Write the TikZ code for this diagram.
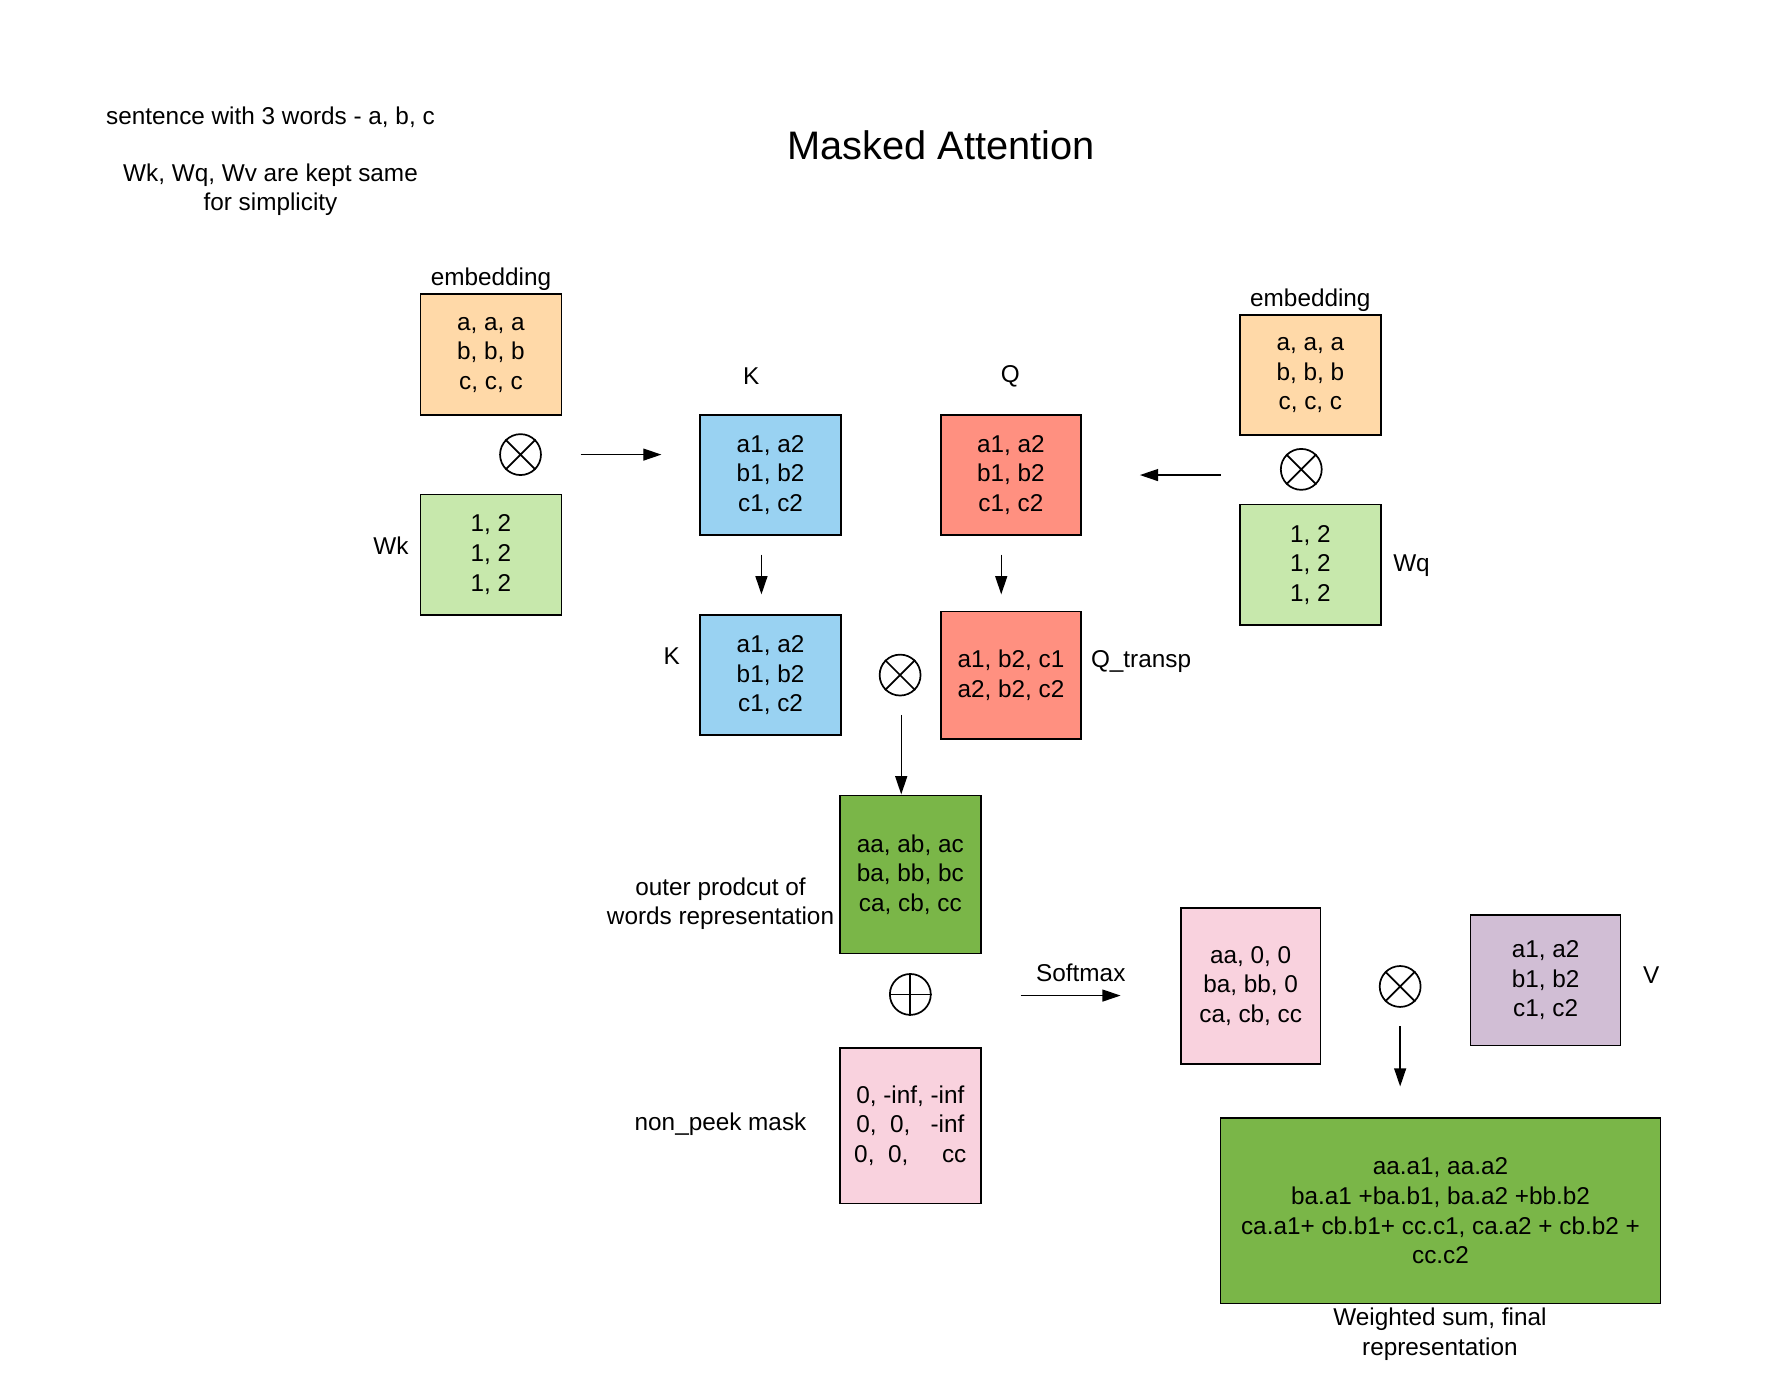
\documentclass[tikz,border=0pt]{standalone}
\usepackage{fontspec}
\setmainfont{Liberation Sans}
\usetikzlibrary{arrows.meta}
\definecolor{cOrange}{HTML}{FFD9A8}
\definecolor{cLGreen}{HTML}{C7E8AC}
\definecolor{cBlue}{HTML}{99D2F2}
\definecolor{cRed}{HTML}{FF9080}
\definecolor{cDGreen}{HTML}{7AB648}
\definecolor{cPink}{HTML}{F9D2DE}
\definecolor{cPurple}{HTML}{D1BED5}
\begin{document}
\begin{tikzpicture}[x=1pt,y=-1pt,
  every node/.style={font=\fontsize{21.4}{26}\selectfont, inner sep=0pt},
  box/.style={draw, line width=1.5pt, align=center, minimum width=124pt, minimum height=106pt},
  lbl/.style={align=center},
  arr/.style={-{Triangle[length=16pt,width=10.5pt]}, line width=1.3pt},
  op/.style={circle, draw, line width=1.5pt, minimum size=36pt}]
\useasboundingbox (0,0) rectangle (1568,1217.8);

% notes and title
\node[lbl] (note1) at (238,103) {sentence with 3 words - a, b, c};
\node[lbl] (note2) at (238,167) {Wk, Wq, Wv are kept same\\for simplicity};
\node[font=\fontsize{35}{42}\selectfont] (title) at (828,128) {Masked Attention};

% left input
\node[lbl] (embL) at (432,246) {embedding};
\node[box, fill=cOrange] (eL) at (432,312) {a, a, a\\b, b, b\\c, c, c};
\node[op] (mulL) at (458,400) {};
\draw[line width=1.5pt] (mulL.north west) -- (mulL.south east) (mulL.north east) -- (mulL.south west);
\node[box, fill=cLGreen] (wk) at (432,488) {1, 2\\1, 2\\1, 2};
\node[lbl] (wkl) at (344,480) {Wk};
\coordinate (a1s) at (511,400);
\coordinate (a1e) at (582,400);
\draw[arr] (a1s) -- (a1e);

% K and Q
\node[lbl] (kl1) at (661,331) {K};
\node[box, fill=cBlue] (k1) at (678,418) {a1, a2\\b1, b2\\c1, c2};
\node[lbl] (ql1) at (889,331) {Q};
\node[box, fill=cRed, minimum width=123pt] (q1) at (889.5,418) {a1, a2\\b1, b2\\c1, c2};
\coordinate (a2s) at (670,488);
\coordinate (a2e) at (670,523);
\draw[arr] (a2s) -- (a2e);
\coordinate (a3s) at (881,488);
\coordinate (a3e) at (881,523);
\draw[arr] (a3s) -- (a3e);

% right input
\node[lbl] (embR) at (1153,264) {embedding};
\node[box, fill=cOrange] (eR) at (1153,330) {a, a, a\\b, b, b\\c, c, c};
\node[op] (mulR) at (1145,413) {};
\draw[line width=1.5pt] (mulR.north west) -- (mulR.south east) (mulR.north east) -- (mulR.south west);
\node[box, fill=cLGreen] (wq) at (1153,497) {1, 2\\1, 2\\1, 2};
\node[lbl] (wql) at (1242,498) {Wq};
\coordinate (a4s) at (1074,418);
\coordinate (a4e) at (1003,418);
\draw[arr] (a4s) -- (a4e);

% K and Q transposed
\node[lbl] (kl2) at (591,577) {K};
\node[box, fill=cBlue] (k2) at (678,594) {a1, a2\\b1, b2\\c1, c2};
\node[op] (mulM) at (792,594) {};
\draw[line width=1.5pt] (mulM.north west) -- (mulM.south east) (mulM.north east) -- (mulM.south west);
\node[box, fill=cRed, minimum width=123pt, minimum height=112pt] (qt) at (889.5,594) {a1, b2, c1\\a2, b2, c2};
\node[lbl] (qtl) at (1004,582) {Q\_transp};
\coordinate (a5s) at (793,629);
\coordinate (a5e) at (793,699);
\draw[arr] (a5s) -- (a5e);

% outer product + mask
\node[box, fill=cDGreen, minimum height=139pt] (outer) at (801,769.5) {aa, ab, ac\\ba, bb, bc\\ca, cb, cc};
\node[lbl] (outerl) at (634,795) {outer prodcut of\\words representation};
\node[op] (plus) at (801,875) {};
\draw[line width=1.5pt] (plus.north) -- (plus.south) (plus.west) -- (plus.east);
\node[box, fill=cPink, minimum height=137pt] (mask) at (801,990.5) {0, -inf, -inf\\0,\ \ 0,\ \ \ -inf\\0,\ \ 0,\ \ \ \ \ cc};
\node[lbl] (maskl) at (634,989) {non\_peek mask};

% softmax
\node[lbl] (smaxl) at (951,856) {Softmax};
\coordinate (a6s) at (898,876);
\coordinate (a6e) at (986,876);
\draw[arr] (a6s) -- (a6e);
\node[box, fill=cPink, minimum width=123pt, minimum height=137pt] (smax) at (1100.5,867.5) {aa, 0, 0\\ba, bb, 0\\ca, cb, cc};
\node[op] (mulV) at (1232,868) {};
\draw[line width=1.5pt] (mulV.north west) -- (mulV.south east) (mulV.north east) -- (mulV.south west);
\node[box, fill=cPurple, minimum width=132pt, minimum height=115pt] (v) at (1360,862.5) {a1, a2\\b1, b2\\c1, c2};
\node[lbl] (vl) at (1453,858) {V};
\coordinate (a7s) at (1232,903);
\coordinate (a7e) at (1232,956);
\draw[arr] (a7s) -- (a7e);

% final
\node[box, fill=cDGreen, minimum width=387pt, minimum height=163pt] (final) at (1267.5,1065.5) {aa.a1, aa.a2\\ba.a1 +ba.b1, ba.a2 +bb.b2\\ca.a1+ cb.b1+ cc.c1, ca.a2 + cb.b2 +\\cc.c2};
\node[lbl] (finall) at (1267,1174) {Weighted sum, final\\representation};
\end{tikzpicture}
\end{document}
